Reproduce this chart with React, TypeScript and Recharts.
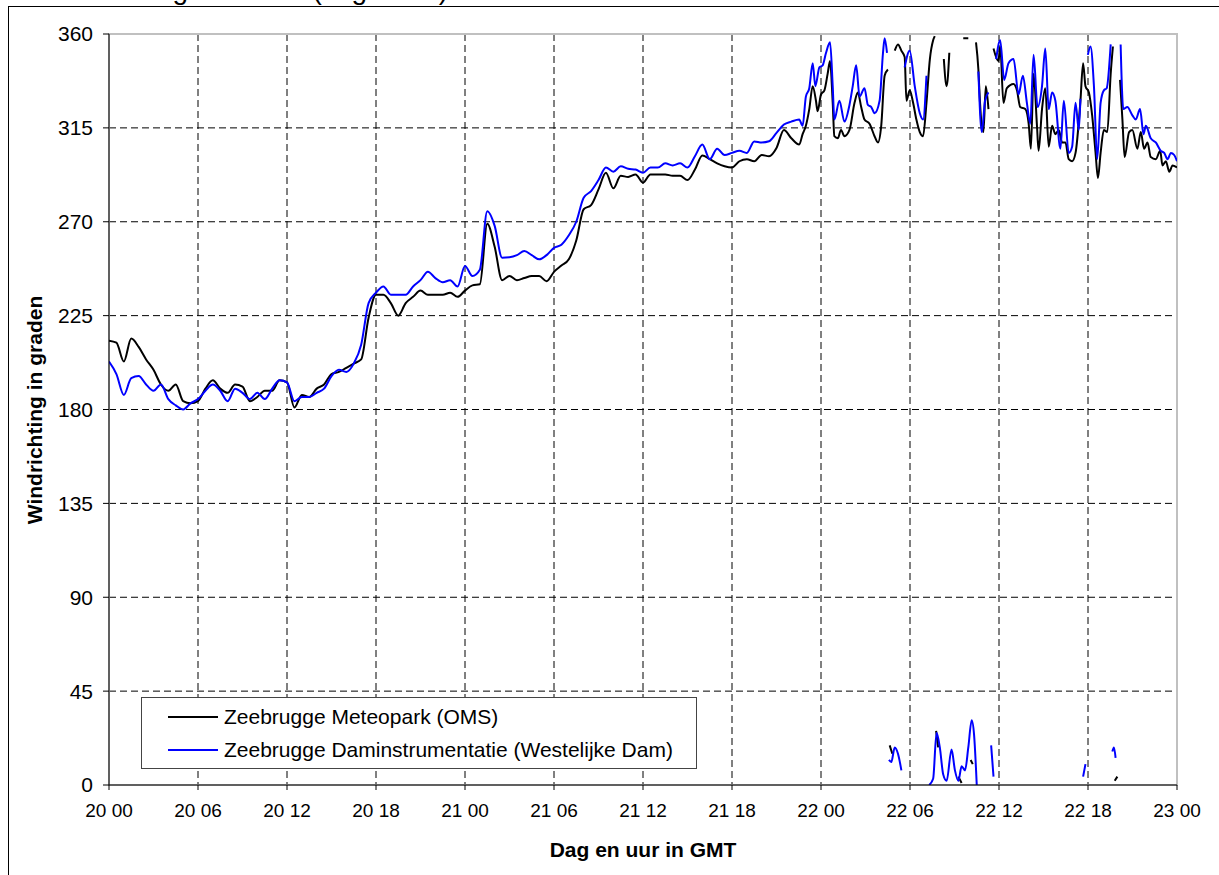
import { LineChart, Line, XAxis, YAxis, CartesianGrid, ReferenceArea } from 'recharts'

// tijd in uren sinds 20 00 (GMT)
const halfHours = Array.from({ length: 93 }, (_, i) => i / 2)

const tickHours = [0, 6, 12, 18, 24, 30, 36, 42, 48, 54, 60, 66, 72]
const tickLabels = ['20 00', '20 06', '20 12', '20 18', '21 00', '21 06', '21 12', '21 18', '22 00', '22 06', '22 12', '22 18', '23 00']
const degreeTicks = [0, 45, 90, 135, 180, 225, 270, 315, 360]

// Zeebrugge Meteopark (OMS), 0 - 46 u per half uur
const meteoparkFirst = [
  213, 212, 203, 214, 210, 204, 199, 192, 189, 192, 184, 183, 184, 190, 194, 190, 188, 192, 191, 184,
  186, 189, 189, 194, 193, 181, 187, 186, 190, 192, 197, 198, 200, 202, 204, 224, 235, 235, 231, 225,
  231, 234, 237, 235, 235, 235, 236, 234, 237,
  239.5, 240, 269, 258, 242, 244, 242, 243, 244, 244, 241.5, 246, 249, 252, 261, 276, 278, 285.5, 293.5, 286,
  292, 291.5, 292.7, 288.7, 292.7, 292.7, 292.7, 292, 292, 290, 295, 301.8, 300, 298, 296.6, 296, 299, 300,
  299, 302, 301.4, 305.4, 314, 310
]

// Zeebrugge Daminstrumentatie (Westelijke Dam), 0 - 46 u per half uur
const damFirst = [
  203, 197, 187, 195, 196, 192, 189, 192, 185, 182, 180, 183, 185, 189, 192, 189, 184, 190, 188, 185,
  188, 185, 190, 194, 193, 184, 186, 186, 188, 190, 196, 199, 198, 202, 211, 231, 236, 239, 235, 235,
  235, 239, 242, 246, 243, 241, 242, 239, 248.8,
  244, 247, 275, 268, 252.8, 253, 254, 256, 254, 252, 254, 257.5, 259, 263.5, 270, 281.5, 284.7, 290, 296, 294,
  296.6, 295.4, 295, 293.5, 296, 296, 298, 297, 298, 296, 301.4, 307, 300, 305, 302, 303, 304, 303,
  308.5, 308, 308.6, 312.6, 316.6, 318
]

// vanaf 46.5 u: onregelmatige aflezing, null = onderbreking (sprong over 360/0)
const meteoparkLateHours = [
  46.53, 46.76, 46.98, 47.21, 47.44, 47.66, 47.77, 48.0, 48.23, 48.45, 48.61, 48.79, 48.9, 49.13, 49.35, 49.58,
  49.92, 50.26, 50.48, 50.71, 50.93, 51.27, 51.61, 51.84, 52.06, 52.29, 52.51, 52.56, 52.63, 52.81, 52.9, 52.97,
  53.19, 53.42, 53.64, 53.76, 53.98, 54.21, 54.43, 54.66, 54.88, 55.11, 55.34, 55.56, 55.67, 55.72, 55.76, 55.9,
  56.0, 56.28, 56.47, 56.65, 56.7, 57.26, 57.48, 57.55, 57.59, 57.93, 58.0, 58.09, 58.23, 58.3, 58.45, 58.61,
  58.72, 58.95, 59.11, 59.29, 59.4, 59.63, 59.96, 60.08, 60.3, 60.53, 60.98, 61.21, 61.43, 61.77, 62.0, 62.15,
  62.33, 62.56, 62.67, 62.9, 63.12, 63.35, 63.58, 63.8, 64.03, 64.25, 64.48, 64.7, 64.93, 65.16, 65.49, 65.67,
  65.83, 66.06, 66.28, 66.51, 66.67, 66.85, 67.07, 67.3, 67.53, 67.68, 67.75, 67.8, 67.98, 68.05, 68.16, 68.32,
  68.47, 68.77, 68.99, 69.33, 69.56, 69.78, 70.01, 70.23, 70.57, 70.87, 71.02, 71.25, 71.48, 71.7, 72.0
]
const meteoparkLate = [
  307, 312, 316, 324, 335, 328, 323, 331, 333, 341, 347, 327, 311, 310, 314, 311,
  314, 327, 332, 325, 319, 317, 311, 308, 316, 340, 343, null, 19, 15, null, 352,
  355, 352, 349, 328, 333, 327, 319, 313, 311, 327, 348, 357, 359, null, 26, 18,
  null, 348, 335, 351, null, 4, 1, null, 358, 358, null, 12, 10, null, 356, 343,
  327, 313, 335, 324, null, 353, 347, 354, 327, 334, 336, 333, 325, 324, 317, 305,
  341, 316, 304, 324, 334, 306, 316, 312, 314, 308, 308, 300, 299, 303, 328, 346,
  335, 332, 321, 303, 291, 303, 314, 313, 341, 354, null, 2, 4, null, 338, 319,
  301, 313, 314, 305, 313, 305, 308, 301, 300, 304, 297, 299, 294, 297, 296
]

const damLateHours = [
  46.53, 46.76, 46.98, 47.21, 47.44, 47.62, 47.89, 48.11, 48.34, 48.61, 48.79, 48.9, 49.24, 49.58, 49.92, 50.14,
  50.37, 50.6, 50.93, 51.16, 51.39, 51.61, 51.95, 52.18, 52.29, 52.45, 52.5, 52.58, 52.74, 52.97, 53.19, 53.42,
  53.5, 53.64, 53.98, 54.32, 54.66, 54.88, 55.11, 55.2, 55.29, 55.56, 55.79, 56.01, 56.24, 56.47, 56.8, 57.03,
  57.26, 57.48, 57.71, 57.93, 58.16, 58.32, 58.5, 58.53, 58.61, 58.84, 59.06, 59.29, 59.35, 59.47, 59.63, 59.66,
  59.81, 60.08, 60.35, 60.64, 60.98, 61.32, 61.61, 61.88, 62.11, 62.33, 62.6, 62.9, 63.12, 63.35, 63.58, 63.8,
  64.14, 64.37, 64.7, 64.93, 65.16, 65.38, 65.49, 65.55, 65.67, 65.83, 65.9, 65.99, 66.17, 66.4, 66.62, 66.85,
  67.07, 67.26, 67.53, 67.58, 67.64, 67.75, 67.86, 67.95, 68.2, 68.38, 68.65, 68.99, 69.22, 69.51, 69.74, 69.9,
  70.23, 70.57, 70.91, 71.14, 71.36, 71.59, 71.81, 72.0
]
const damLate = [
  319, 316, 330, 334, 346, 335, 344, 345, 351, 356, 335, 319, 328, 318, 326, 335,
  345, 330, 334, 326, 325, 322, 328, 351, 358, 351, null, 12, 11, 18, 15, 7,
  null, 344, 352, 335, 322, 319, 340, null, 0, 3, 25, 18, 5, 2, 17, 7,
  2, 9, 7, 18, 31, 24, 0, null, 342, 313, 328, 332, null, 19, 4, null,
  348, 357, 338, 346, 348, 331, 340, 327, 317, 350, 325, 335, 353, 324, 332, 328,
  305, 328, 303, 306, 327, 314, 329, null, 4, 10, null, 350, 354, 335, 300, 327,
  333, 334, 355, null, 16, 18, 13, null, 355, 324, 325, 321, 319, 324, 312, 316,
  310, 308, 304, 303, 300, 303, 302, 299
]

const meteoparkData = [
  ...halfHours.map((h, i) => ({ h, v: meteoparkFirst[i] })),
  ...meteoparkLateHours.map((h, i) => ({ h, v: meteoparkLate[i] }))
]
const damData = [
  ...halfHours.map((h, i) => ({ h, v: damFirst[i] })),
  ...damLateHours.map((h, i) => ({ h, v: damLate[i] }))
]

const FONT = 'Arial, "Liberation Sans", sans-serif'

function ChartLegend() {
  const row = (color: string, label: string) => (
    <div style={{ display: 'flex', alignItems: 'center', height: 33 }}>
      <span style={{ display: 'inline-block', width: 50, height: 2, background: color, marginLeft: 26, marginRight: 6 }} />
      <span>{label}</span>
    </div>
  )
  return (
    <div style={{ position: 'absolute', left: 141, top: 697, border: '1px solid #444', background: '#fff', width: 556, height: 72, fontSize: 21, color: '#000', boxSizing: 'border-box', paddingTop: 2 }}>
      {row('#000000', 'Zeebrugge Meteopark (OMS)')}
      {row('#0000ff', 'Zeebrugge Daminstrumentatie (Westelijke Dam)')}
    </div>
  )
}

export default function App() {
  return (
    <div style={{ position: 'absolute', left: 0, top: 0, width: 1219, height: 875, overflow: 'hidden', background: '#fff', fontFamily: FONT }}>
      <div style={{ position: 'absolute', left: 34, top: -24, fontSize: 28, lineHeight: '28px', whiteSpace: 'nowrap' }}>
        Windrichting 20 tot 23 (in graden)
      </div>
      <div style={{ position: 'absolute', left: 8, top: 6, width: 1300, height: 1000, borderLeft: '1px solid #000', borderTop: '1px solid #000' }} />
      <div style={{ position: 'absolute', left: 0, top: 0 }}>
        <LineChart width={1219} height={875} margin={{ top: 34, right: 42, bottom: 50, left: 49 }}>
          <CartesianGrid stroke="#000" strokeDasharray="7 4" />
          <ReferenceArea x1={0} x2={72} y1={0} y2={360} fill="none" stroke="#c0c0c0" strokeWidth={2} />
          <XAxis
            type="number"
            dataKey="h"
            domain={[0, 72]}
            ticks={tickHours}
            tickFormatter={(v: number) => tickLabels[tickHours.indexOf(v)] ?? ''}
            allowDataOverflow
            height={40}
            stroke="#000"
            tickSize={5}
            tickMargin={14}
            tick={{ fontSize: 19, fill: '#000', fontFamily: FONT }}
          />
          <YAxis
            type="number"
            domain={[0, 360]}
            ticks={degreeTicks}
            allowDataOverflow
            width={60}
            stroke="#000"
            tickSize={6}
            tickMargin={10}
            tick={{ fontSize: 21, fill: '#000', fontFamily: FONT }}
          />
          <Line
            data={meteoparkData}
            dataKey="v"
            name="Zeebrugge Meteopark (OMS)"
            type="monotoneX"
            stroke="#000000"
            strokeWidth={2}
            dot={false}
            activeDot={false}
            isAnimationActive={false}
          />
          <Line
            data={damData}
            dataKey="v"
            name="Zeebrugge Daminstrumentatie (Westelijke Dam)"
            type="monotoneX"
            stroke="#0000ff"
            strokeWidth={2}
            dot={false}
            activeDot={false}
            isAnimationActive={false}
          />
        </LineChart>
      </div>
      <ChartLegend />
      <div style={{ position: 'absolute', left: 35, top: 410, transform: 'translate(-50%, -50%) rotate(-90deg)', fontSize: 21, fontWeight: 'bold', whiteSpace: 'nowrap' }}>
        Windrichting in graden
      </div>
      <div style={{ position: 'absolute', left: 643, top: 850, transform: 'translate(-50%, -50%)', fontSize: 21, fontWeight: 'bold', whiteSpace: 'nowrap' }}>
        Dag en uur in GMT
      </div>
    </div>
  )
}
